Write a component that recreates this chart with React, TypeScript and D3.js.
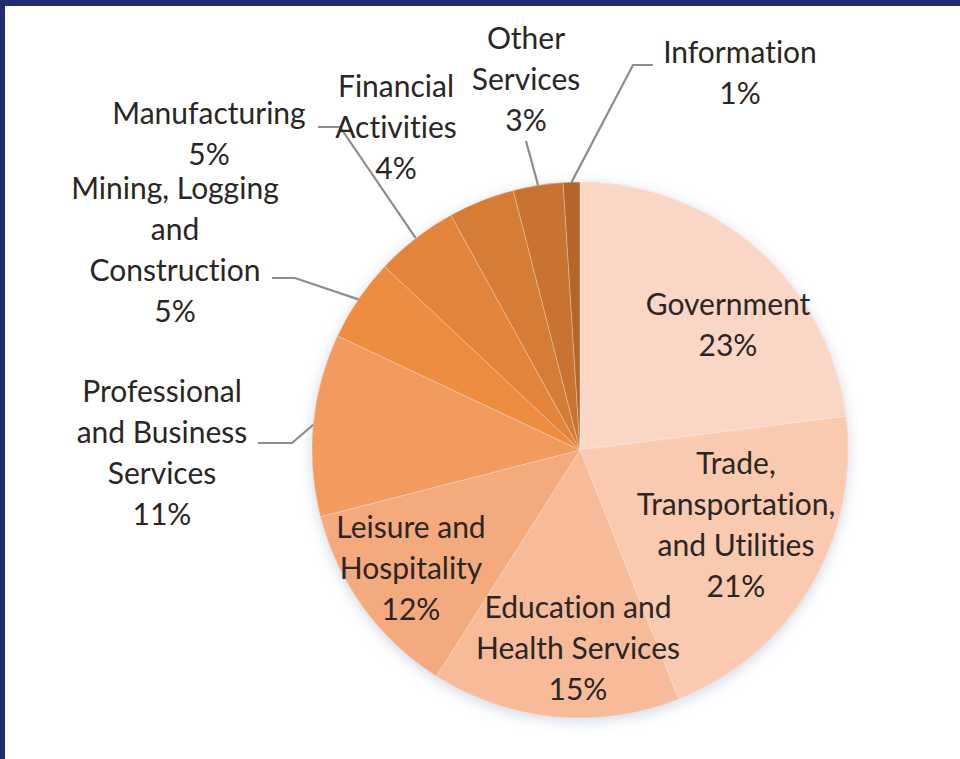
import React, { useEffect, useRef } from "react";
import * as d3 from "d3";

const categories = [
  "Government",
  "Trade, Transportation, and Utilities",
  "Education and Health Services",
  "Leisure and Hospitality",
  "Professional and Business Services",
  "Mining, Logging and Construction",
  "Manufacturing",
  "Financial Activities",
  "Other Services",
  "Information",
];
const shares = [23, 21, 15, 12, 11, 5, 5, 4, 3, 1];
const labelLines = [
  ["Government", "23%"],
  ["Trade,", "Transportation,", "and Utilities", "21%"],
  ["Education and", "Health Services", "15%"],
  ["Leisure and", "Hospitality", "12%"],
  ["Professional", "and Business", "Services", "11%"],
  ["Mining, Logging", "and", "Construction", "5%"],
  ["Manufacturing", "5%"],
  ["Financial", "Activities", "4%"],
  ["Other", "Services", "3%"],
  ["Information", "1%"],
];
const colors = [
  "#fad6c7", "#f9c9b0", "#f7bb99", "#f5aa7d", "#f29b5e",
  "#ee8d3f", "#e2853a", "#d57c36", "#c87331", "#b5652a",
];

// layout: label centre x, first line centre y, optional leader start points
const labelLayout: { x: number; y: number; leader?: [number, number][] }[] = [
  { x: 728, y: 304 },
  { x: 736, y: 463 },
  { x: 578, y: 607 },
  { x: 411, y: 527 },
  { x: 162, y: 391, leader: [[258, 443], [292, 443]] },
  { x: 175, y: 188, leader: [[272, 278], [295, 278]] },
  { x: 209, y: 113, leader: [[318, 127], [340, 127]] },
  { x: 396, y: 86 },
  { x: 526, y: 38, leader: [[526, 141]] },
  { x: 740, y: 52, leader: [[653, 65], [633, 65]] },
];

const W = 960, H = 759;
const cx = 580, cy = 450, R = 268;
const lineH = 41;

export default function App() {
  const ref = useRef<SVGSVGElement>(null);
  useEffect(() => {
    const svg = d3.select(ref.current);
    svg.selectAll("*").remove();

    svg.append("rect").attr("width", W).attr("height", H).attr("fill", "#ffffff");
    svg.append("rect").attr("x", 0).attr("y", 0).attr("width", W).attr("height", 6).attr("fill", "#202d6e");
    svg.append("rect").attr("x", 0).attr("y", 0).attr("width", 5).attr("height", H).attr("fill", "#202d6e");

    const defs = svg.append("defs");
    const f = defs.append("filter").attr("id", "glow").attr("x", "-20%").attr("y", "-20%").attr("width", "140%").attr("height", "140%");
    f.append("feDropShadow").attr("dx", 0).attr("dy", 3).attr("stdDeviation", 7)
      .attr("flood-color", "#8fa6c4").attr("flood-opacity", 0.45);

    const data = categories.map((c, i) => ({ c, v: shares[i], i }));
    const pie = d3.pie<any>().value((d) => d.v).sort(null);
    const arcs = pie(data);
    const arc = d3.arc<any>().innerRadius(0).outerRadius(R);

    const g = svg.append("g").attr("transform", `translate(${cx},${cy})`);
    g.append("circle").attr("r", R).attr("fill", "#f5b48f").attr("filter", "url(#glow)");
    g.selectAll("path.slice")
      .data(arcs)
      .join("path")
      .attr("class", "slice")
      .attr("d", arc as any)
      .attr("fill", (d: any) => colors[d.index])
      .attr("stroke", "#ffffff")
      .attr("stroke-opacity", 0.3)
      .attr("stroke-width", 1);

    // leader lines
    arcs.forEach((a: any, i: number) => {
      const lay = labelLayout[i];
      if (!lay.leader) return;
      const mid = (a.startAngle + a.endAngle) / 2;
      const end: [number, number] = [cx + R * Math.sin(mid), cy - R * Math.cos(mid)];
      const pts = [...lay.leader, end];
      svg.append("path")
        .attr("d", d3.line()(pts as any) as string)
        .attr("fill", "none")
        .attr("stroke", "#8c8c8c")
        .attr("stroke-width", 2.2);
    });

    // labels
    labelLines.forEach((lines, i) => {
      const lay = labelLayout[i];
      const t = svg.append("text")
        .attr("text-anchor", "middle")
        .attr("font-family", "Lato, 'Open Sans', sans-serif")
        .attr("font-size", 30)
        .attr("fill", "#2a2624")
        .style("font-variant-ligatures", "none")
        .style("font-feature-settings", "'liga' 0, 'clig' 0");
      lines.forEach((ln, k) => {
        t.append("tspan").attr("x", lay.x).attr("y", lay.y + k * lineH).attr("dy", "0.36em").text(ln);
      });
    });
  }, []);
  return (
    <svg ref={ref} width={W} height={H} style={{ position: "absolute", left: 0, top: 0, display: "block" }} />
  );
}
